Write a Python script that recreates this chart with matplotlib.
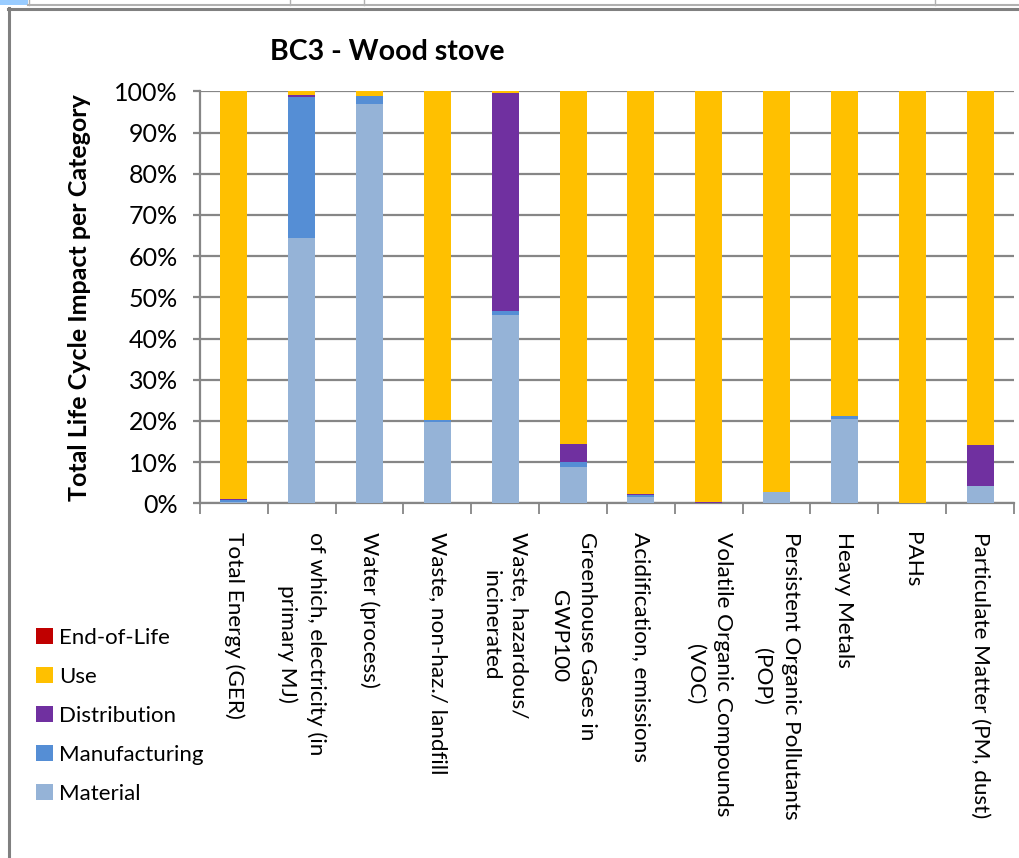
import matplotlib
matplotlib.use("Agg")
import matplotlib.pyplot as plt
import numpy as np
from matplotlib.patches import Rectangle
from matplotlib.lines import Line2D

categories = [
    "Total Energy (GER)",
    "of which, electricity (in\nprimary MJ)",
    "Water (process)",
    "Waste, non-haz./ landfill",
    "Waste, hazardous/\nincinerated",
    "Greenhouse Gases in\nGWP100",
    "Acidification, emissions",
    "Volatile Organic Compounds\n(VOC)",
    "Persistent Organic Pollutants\n(POP)",
    "Heavy Metals",
    "PAHs",
    "Particulate Matter (PM, dust)",
]

material      = [0.4, 64.4, 96.9, 19.7, 45.8, 8.8, 1.5, 0.05, 2.75, 20.5, 0.0, 4.2]
manufacturing = [0.3, 34.2, 2.0, 0.5, 0.8, 1.2, 0.5, 0.0, 0.0, 0.7, 0.0, 0.0]
distribution  = [0.4, 0.5, 0.0, 0.0, 53.0, 4.4, 0.3, 0.3, 0.0, 0.0, 0.0, 10.0]
end_of_life   = [0.0] * 12
use = [100 - a - b - c - d for a, b, c, d in zip(material, manufacturing, distribution, end_of_life)]

series = [
    ("Material", material, "#95B3D7"),
    ("Manufacturing", manufacturing, "#558ED5"),
    ("Distribution", distribution, "#7030A0"),
    ("Use", use, "#FFC000"),
    ("End-of-Life", end_of_life, "#C00000"),
]

FONT = ["Lato", "DejaVu Sans"]
plt.rcParams['font.family'] = FONT

W, H = 1020, 858
fig = plt.figure(figsize=(W / 100, H / 100), dpi=100)
fig.patch.set_facecolor("white")

ax = fig.add_axes([200 / W, 1 - 503.3 / H, 814 / W, (503.3 - 91.3) / H])
x = np.arange(len(categories))
bottom = np.zeros(len(categories))
handles = {}
for name, vals, col in series:
    v = np.array(vals, dtype=float) / 100.0
    b = ax.bar(x, v, width=0.4, bottom=bottom, color=col, label=name, zorder=3)
    handles[name] = b
    bottom += v

ax.set_xlim(-0.5, len(categories) - 0.5)
ax.set_ylim(0, 1)
ax.set_yticks(np.arange(0, 1.01, 0.1))
ax.set_yticklabels([f"{int(round(t * 100))}%" for t in np.arange(0, 1.01, 0.1)], fontsize=18)
ax.yaxis.grid(True, color="#868686", linewidth=1.6, zorder=0)
ax.set_axisbelow(True)
for s in ["top", "right"]:
    ax.spines[s].set_visible(False)
for s in ["left", "bottom"]:
    ax.spines[s].set_color("#868686")
    ax.spines[s].set_linewidth(1.6)
ax.tick_params(axis="y", length=5, width=1.6, color="#868686", pad=11)

# category boundary ticks
ax.set_xticks(np.arange(-0.5, len(categories) + 0.5, 1.0))
ax.set_xticklabels([])
ax.tick_params(axis="x", length=8, width=1.3, color="#868686")
for i, c in enumerate(categories):
    ax.text(i, -0.07, c, rotation=-90, ha="center", va="top", fontsize=16.2,
            multialignment="center", linespacing=1.5,
            transform=ax.get_xaxis_transform())

ax.set_ylabel("Total Life Cycle Impact per Category", fontsize=18, fontweight="bold", labelpad=17)

fig.text(387 / W, 1 - 52 / H, "BC3 - Wood stove", fontsize=20.5, fontweight="bold",
         ha="center", va="center")

order = ["End-of-Life", "Use", "Distribution", "Manufacturing", "Material"]
leg = fig.legend([handles[n] for n in order], order, loc="upper left",
                 bbox_to_anchor=(16 / W, 1 - 608 / H), frameon=False, fontsize=16,
                 handlelength=0.75, handleheight=0.75, handletextpad=0.3, labelspacing=0.85)

# spreadsheet bits / chart frame
fig.add_artist(Rectangle((0, 1 - 5 / H), 28 / W, 5 / H, transform=fig.transFigure,
                         facecolor="#99CCFF", edgecolor="none"))
fig.add_artist(Line2D([28 / W, 1], [1 - 5 / H, 1 - 5 / H], transform=fig.transFigure,
                      color="#B0B0B0", linewidth=1.5))
for xv in [29, 290, 364, 935]:
    fig.add_artist(Line2D([xv / W, xv / W], [1, 1 - 5 / H], transform=fig.transFigure,
                          color="#B0B0B0", linewidth=1))
fig.add_artist(Line2D([8 / W, 1], [1 - 8.5 / H, 1 - 8.5 / H], transform=fig.transFigure,
                      color="#808080", linewidth=2.2))
fig.add_artist(Line2D([9.5 / W, 9.5 / W], [1 - 8 / H, 0], transform=fig.transFigure,
                      color="#808080", linewidth=2.2))

fig.savefig("out.png", dpi=100, facecolor="white")
